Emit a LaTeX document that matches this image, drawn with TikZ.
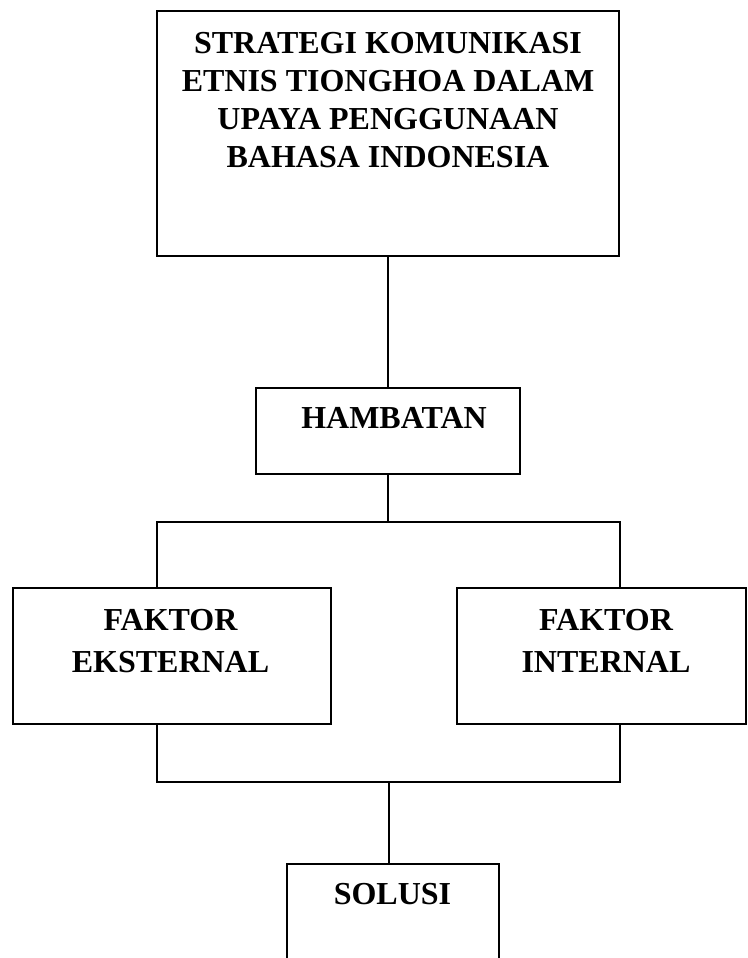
\documentclass[tikz,border=0pt]{standalone}
\usepackage{fontspec}
\setmainfont{Liberation Serif}
\begin{document}
\begin{tikzpicture}[x=1pt,y=-1pt,
  box/.style={draw,line width=1.4pt,rectangle,inner sep=0pt},
  lbl/.style={font=\bfseries\fontsize{32}{38}\selectfont,align=center,anchor=north,inner sep=0pt},
  lbl2/.style={font=\bfseries\fontsize{32}{42.5}\selectfont,align=center,anchor=north,inner sep=0pt},
  conn/.style={line width=1.4pt}]
\useasboundingbox (0,0) rectangle (747,958);
% boxes
\node[box,minimum width=462pt,minimum height=245pt] (top) at (388,133.5) {};
\node[box,minimum width=264pt,minimum height=86pt] (ham) at (388,431) {};
\node[box,minimum width=318pt,minimum height=136pt] (ext) at (172,656) {};
\node[box,minimum width=289pt,minimum height=136pt] (int) at (601.5,656) {};
\node[box,minimum width=212pt,minimum height=130pt] (sol) at (393,929) {};
% texts
\node[lbl] (ttop) at (388,32) {STRATEGI KOMUNIKASI\\ETNIS TIONGHOA DALAM\\UPAYA PENGGUNAAN\\BAHASA INDONESIA};
\node[lbl] (tham) at (394,407) {HAMBATAN};
\node[lbl2] (text) at (170.5,609) {FAKTOR\\EKSTERNAL};
\node[lbl2] (tint) at (606,609) {FAKTOR\\INTERNAL};
\node[lbl] (tsol) at (392.5,883) {SOLUSI};
% connectors
\coordinate (j1) at (388,522);
\coordinate (bl) at (157,522);
\coordinate (br) at (620,522);
\coordinate (j2) at (389,782);
\coordinate (cl) at (157,782);
\coordinate (cr) at (620,782);
\draw[conn] (top.south) -- (ham.north);
\draw[conn] (ham.south) -- (j1);
\draw[conn] (ext.north -| bl) -- (bl) -- (br) -- (int.north -| br);
\draw[conn] (ext.south -| cl) -- (cl) -- (cr) -- (int.south -| cr);
\draw[conn] (j2) -- (sol.north -| j2);
\end{tikzpicture}
\end{document}
